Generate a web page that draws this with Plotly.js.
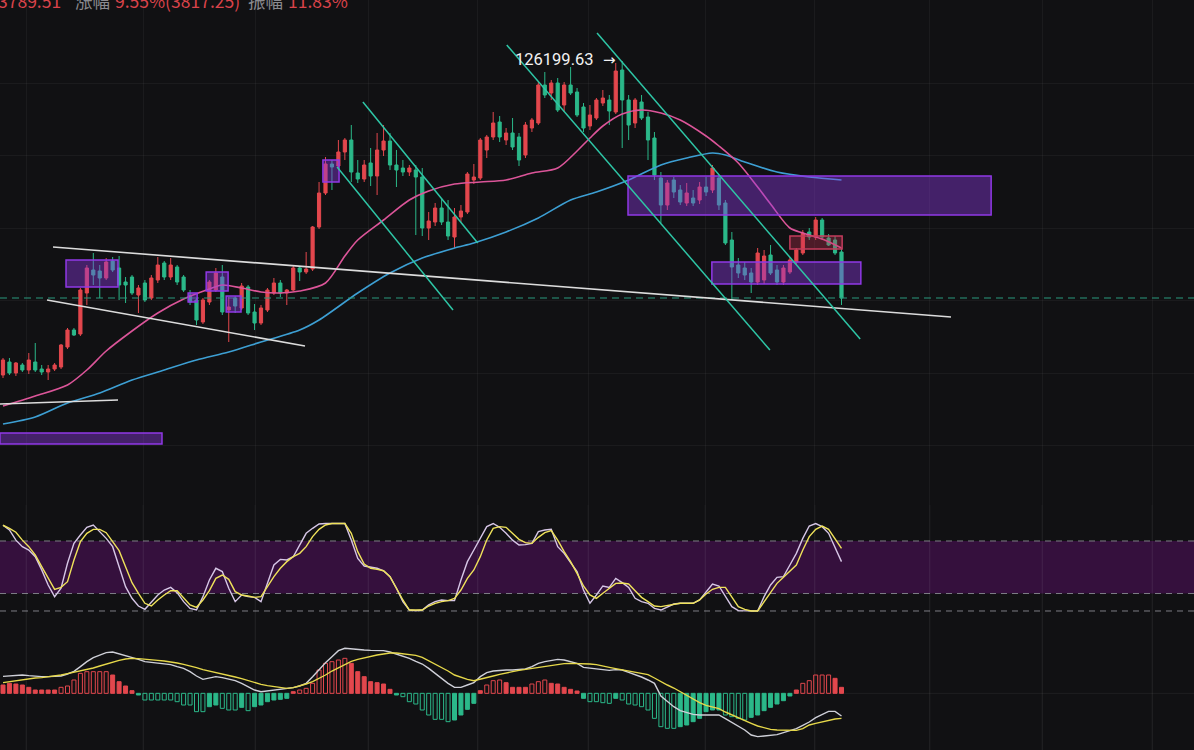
<!DOCTYPE html>
<html><head><meta charset="utf-8">
<script src="https://cdn.plot.ly/plotly-3.0.1.min.js"></script>
<style>html,body{margin:0;padding:0;background:#111113;overflow:hidden}#chart{width:1194px;height:750px}</style>
</head><body><div id="chart"></div>
<script>
// ---- weekly candles (index 0..130) ----
const open = [39536,43124,40088,42296,40916,43124,41192,40364,41192,41744,
47264,51956,50852,62168,68516,68240,66308,71000,69068,65204,
66584,61616,64928,60788,65756,70448,66584,69344,66584,61616,
60236,54164,59684,62996,66584,57476,60788,58028,63824,56924,
53888,57476,62168,64928,62168,62996,69068,67964,68792,80384,
89768,97772,97220,101084,104396,95288,93632,98048,94460,101636,
104120,97496,96668,95564,96116,94184,80108,81764,85628,81764,
77624,83144,84524,93356,93908,101636,105224,109364,104396,106328,
105224,100256,107708,109088,119576,117368,120128,114056,119576,117644,
113504,108260,110468,114608,115436,112124,123716,115436,109088,114884,
110744,104948,93908,86456,93356,90596,87008,88388,87836,91424,
90596,93908,87008,76796,69896,69068,67688,65204,65756,72656,
68516,65204,67964,70724,73208,79004,77624,82316,77348,76796,
73484];
const high = [44228,44228,43124,42848,45608,48368,42296,42296,42848,48092,
52508,52508,63548,69896,73208,69896,71828,72104,72380,66584,
67136,64376,65756,67136,72104,71000,71828,69896,67136,62996,
60788,60788,65756,69068,69896,61064,61340,64928,64376,59132,
58856,63548,66308,65756,63272,69620,69620,73484,80660,92804,
99704,98876,104396,104948,108536,98876,98876,102188,106328,108536,
106328,101636,98876,97496,97496,96668,84524,87008,88388,87836,
85628,86456,95564,97772,104948,105776,112124,111020,107708,110468,
106328,109364,110468,120404,123164,120956,121508,120404,124544,118748,
114608,114056,115988,118196,116816,125648,126199.63,116816,115988,116816,
112124,106604,95564,93356,94184,91976,92528,90596,92804,94184,
97496,94736,87836,79004,71828,70724,69068,74588,74036,75416,
69896,69896,72104,74588,79556,80108,83144,82868,78452,77900,
74588];
const low = [38708,39536,39260,40364,39812,40364,39536,38156,40640,41192,
46712,50300,50300,58856,64376,60788,65756,67964,60236,59408,
61616,56648,59684,60236,64928,65756,65756,64376,62444,58856,
53336,53612,58856,62444,56096,48644,56648,57476,56096,51956,
53336,56924,61616,61064,58856,62720,65480,67412,68240,79832,
89216,90596,96116,98876,92804,92528,92804,91700,89216,99980,
96116,91424,94460,94460,78176,77900,76796,80660,80936,76796,
74588,81764,83972,92252,93356,99428,104396,103844,103016,101636,
97220,99428,106604,108536,115988,115436,112124,112124,116816,110744,
106604,107156,109916,113780,108536,111572,102188,104396,107708,109916,
98876,93356,81488,85076,88388,86456,86180,86180,86732,88940,
89768,85076,75416,60236,66308,65756,62168,64376,64652,67136,
64376,64376,67412,70172,72656,76796,76796,76796,75140,72656,
58856];
const close = [43676,40088,42848,40916,43676,40916,40364,41192,42296,47816,
51956,50576,62996,69068,67136,66308,70724,68516,64376,64376,
62168,63548,60236,66308,69896,66584,69896,65204,62996,59684,
54716,60236,65204,67688,56924,58304,58580,64100,56648,53888,
58028,62996,64928,62168,62996,69068,67964,68792,80384,89768,
97772,96944,101084,104396,95564,93632,97496,94460,101636,104120,
97496,96116,95564,96668,94184,80108,82040,85628,81764,77900,
83144,84800,95012,94184,104396,105224,109088,105224,106328,102464,
98876,108536,109916,119576,116816,120128,112676,119576,117368,111296,
107708,111296,115436,115988,112400,123440,115436,108536,115436,110468,
104396,94736,86456,92528,90044,87284,89768,87008,91424,90044,
96668,86456,75968,69344,67688,67136,65204,73208,72380,67688,
65204,69068,71276,74036,78728,77624,82316,77624,75416,73208,
60788];

// ---- moving averages (read at sample weeks) ----
const ma20Week = [0,5,10,13,16,20,24,28,32,34,37,40,43,46,50,53,55,59,63,66,70,74,78,82,86,89,91,93,96,99,102,105,109,111,114,117,119,122,124,127,130];
const ma20 = [30980,33740,36776,40916,46160,51680,56648,60512,63272,64376,63548,62444,62168,62720,64928,72380,76796,82316,87836,90320,92252,92804,93356,95288,96668,101360,104948,108260,111572,112676,111848,109916,105500,102740,98048,91424,86732,80108,78728,77072,74588];
const ma50Week = [0,5,10,15,20,25,30,35,40,46,49,55,60,65,70,73,78,83,88,92,97,102,106,110,112,115,120,125,130];
const ma50 = [26012,27944,31808,34568,38156,40916,43676,45884,48644,51956,54716,62168,67688,71828,74588,75968,79004,82868,87836,90044,93356,97496,99428,100808,100256,98324,95564,94184,93356];

// ---- stochastic ----
const stochK = [98,92.6,81,73.5,69.7,62,47,29.7,16.4,26,
54.5,77.3,86.9,95.6,98.3,90.7,83,73.5,50.7,27.8,
14.5,5.7,1.9,10.7,18.3,24,27,21,10.7,3,
1.1,16.4,35.4,48.8,45,26,10.7,18.3,16.4,15.6,
10.7,31.6,52.6,59,58.3,62,75.4,88.8,94.5,99.4,
100,100,100,100,81,60,51.4,50,48.8,46,
39.2,26,10.7,1.1,0.3,1.1,6.9,10.7,12.6,11.8,
11.8,35.4,56.4,69.7,83,96.4,100,95.6,88.8,81,
75.4,75.8,77.3,90.7,92.6,93.3,73.5,65.9,55.2,45,
24,8.8,18.3,28.6,27,37.3,32.4,27,14.5,10.7,
8.8,3,1.1,5,8,8.8,8.8,8.8,12.6,22,
30.9,28.6,16.4,5,0.4,0,0,0,16.4,29.7,
38.5,39.2,52.6,65.9,83,97.1,100,96.4,88.8,73.5,
56.4];
const stochD = [98,94.5,90,81,73.5,64,50.7,37.3,24.8,27,
33.5,58.3,79.2,88.8,93.3,93.3,89.5,79.2,69,50.7,
32.4,20.2,8.8,5.7,12.6,18.3,23.2,23.2,14.5,6.9,
4.2,12.6,23.2,37.3,41.1,36.2,22.1,18.3,17.1,15.6,
16.4,27.8,39.2,48.8,56.4,62.1,65.9,73.5,85,93.3,
98.3,100,100,100,88.8,67.8,53.7,48.8,47.6,46,
39.2,25.9,12.6,1.1,1.1,1.1,5.7,8.8,10.7,11.8,
14.5,24,37.3,46.9,62.1,81.1,94.5,96.4,95.6,88.8,
81.9,78.1,77.3,84.2,89.5,91.8,81.1,67.8,56.4,43,
28.6,18.3,14.5,20.2,25.9,31.6,32,30.9,23.2,15.6,
10.7,5.7,5,6.5,8,8.8,8.8,8.8,12.6,19.4,
24.8,27,27,16.4,5,1.9,0,0,10.7,20.2,
31.6,38.5,45,52.6,69.7,85,93.3,97.1,93.3,83,
71.6];
const stochLevels = [80, 20, 0];

// ---- MACD ----
const dif = [2550,2650,2700,2750,2650,2550,2500,2500,2500,2600,
2900,3300,4000,4750,5350,5750,6100,6200,5950,5650,
5400,5100,4750,4650,4600,4500,4300,4000,3750,3250,
2600,2100,2350,2500,2350,2150,1900,1500,1000,500,
250,350,500,600,700,850,1100,1500,2500,3600,
4600,5500,6400,6750,6650,6500,6500,6450,6450,6400,
6200,5900,5600,5250,4800,4400,3750,3000,2200,1500,
900,900,1250,1600,2500,3100,3350,3450,3500,3500,
3600,3650,4000,4500,4750,4900,5100,5000,4750,4500,
3900,3800,3750,3600,3450,3550,3500,3150,2850,2450,
2000,1500,-400,-1250,-2000,-2600,-2900,-3150,-3250,-3250,
-3250,-3250,-3800,-4400,-4900,-5500,-6250,-6500,-6400,-6300,
-6200,-5900,-5600,-5300,-4800,-4300,-3650,-3150,-2700,-2700,
-3400];
const dea = [1600,1750,1950,2100,2200,2300,2350,2450,2600,2750,
2950,3150,3350,3550,3800,4100,4400,4700,4950,5150,
5250,5200,5150,5000,4950,4850,4750,4550,4350,4150,
3850,3550,3350,3150,2900,2650,2450,2200,1900,1600,
1350,1150,1000,850,750,850,1100,1400,1750,2200,
2750,3350,3850,4350,4800,5100,5350,5550,5750,5900,
6050,6050,5950,5850,5700,5400,4900,4400,3850,3350,
2750,2400,2100,1900,2100,2350,2600,2850,3000,3250,
3450,3600,3750,3900,4050,4150,4300,4450,4500,4500,
4500,4400,4300,4050,3900,3700,3500,3300,3100,2950,
2800,2300,1750,1250,800,250,-250,-750,-1400,-1800,
-2100,-2300,-2800,-3250,-3650,-4100,-4500,-4900,-5200,-5400,
-5500,-5550,-5600,-5550,-5300,-4750,-4500,-4250,-4000,-3850,
-3750];
const hist = [1250,1500,1400,1250,900,500,500,500,500,900,
1100,2000,3000,3250,3250,3250,3250,2750,1750,1100,
400,-250,-1000,-1000,-1000,-1000,-1000,-1250,-1750,-1750,
-2750,-2750,-2000,-1750,-2250,-2500,-2500,-2100,-2600,-2000,
-1750,-1250,-1000,-900,-750,250,500,750,1500,3500,
4500,4750,5000,5250,4500,3250,2500,1750,1600,1400,
600,-250,-500,-1250,-1600,-2500,-3250,-3900,-3900,-4250,
-4000,-3250,-2400,-1500,400,1250,1900,2000,1600,900,
900,900,1400,1750,2000,1500,1400,900,600,350,
-750,-1250,-1250,-1400,-1500,-750,-1000,-1600,-1750,-2000,
-2500,-3750,-5000,-5250,-5250,-5000,-4750,-4250,-3750,-2750,
-2500,-2500,-3250,-3500,-3750,-4000,-3600,-3250,-2600,-2100,
-1600,-1100,-400,500,1500,1900,2750,2750,2750,2250,
900];

// ---- drawn zones: [weekStart, weekEnd, priceTop, priceBottom] ----
const purpleZones = [
  [9.77,17.83,71276,63824],
  [-0.47,24.65,23528,20492],
  [28.7,30.1,62168,59684],
  [31.5,34.9,67964,62720],
  [34.6,36.9,61340,56924],
  [49.6,52.1,98876,92804],
  [96.9,153.2,94460,83696],
  [109.9,133.0,70724,64652]
];
const redZones = [[122.0,130.1,77900,74312]];
// ---- drawn trend lines: [week0, price0, week1, price1] ----
const whiteLines = [
  [7.75,74864,146.98,55544],
  [6.82,60236,46.82,47540],
  [-0.47,31532,17.83,32636]
];
const cyanLines = [
  [51.8,96944,69.77,57476],
  [55.8,114884,73.6,75968],
  [78.1,130616,118.9,46436],
  [92.1,133928,132.9,49472]
];
const gridWeeks = [3.57,21.71,39.07,56.59,73.64,90.7,108.84,125.89,143.72,161.09,178.14];
const priceGrid = [20000,40000,60000,80000,100000,120000];
const peakValue = '126199.63';
const topLabels = [
  {t:'3789.51', c:'red', x:-4},
  {t:'涨幅', c:'gray', x:73},
  {t:'9.55%(3817.25)', c:'red', x:113},
  {t:'振幅', c:'gray', x:246},
  {t:'11.83%', c:'red', x:286}
];

// ---------------- build ----------------
const RED='#e3474d', GREEN='#2bb889';
const weeks = open.map((_,i)=>i);
const W=1194, H=750;

const traces = [];
traces.push({type:'candlestick', x:weeks, open, high, low, close, xaxis:'x', yaxis:'y',
  increasing:{line:{color:RED,width:1}, fillcolor:RED},
  decreasing:{line:{color:GREEN,width:1}, fillcolor:GREEN},
  whiskerwidth:0, hoverinfo:'skip'});
traces.push({type:'scatter', mode:'lines', x:ma50Week, y:ma50, line:{color:'#3d9fd3',width:1.6,shape:'spline',smoothing:0.8}, xaxis:'x', yaxis:'y', hoverinfo:'skip'});
traces.push({type:'scatter', mode:'lines', x:ma20Week, y:ma20, line:{color:'#dc5599',width:1.6,shape:'spline',smoothing:0.8}, xaxis:'x', yaxis:'y', hoverinfo:'skip'});

traces.push({type:'scatter', mode:'lines', x:weeks, y:stochK, line:{color:'#d6c6e6',width:1.4}, xaxis:'x', yaxis:'y2', hoverinfo:'skip'});
traces.push({type:'scatter', mode:'lines', x:weeks, y:stochD, line:{color:'#efe25a',width:1.4}, xaxis:'x', yaxis:'y2', hoverinfo:'skip'});

const barFill=[], barLine=[];
let prevHollow=false;
hist.forEach((h,i)=>{
  const col = h>=0?RED:GREEN;
  let hollow=false;
  if(i>0){
    const p=hist[i-1];
    if(Math.sign(p)===Math.sign(h)){
      if(Math.abs(h)>Math.abs(p)) hollow=true;
      else if(Math.abs(h)===Math.abs(p)) hollow=prevHollow;
    }
  }
  if(i<4) hollow=false;
  prevHollow=hollow;
  barFill.push(hollow?'rgba(0,0,0,0)':col);
  barLine.push(col);
});
traces.push({type:'bar', x:weeks, y:hist, width:0.62, marker:{color:barFill, line:{color:barLine,width:1}}, xaxis:'x', yaxis:'y3', hoverinfo:'skip'});
traces.push({type:'scatter', mode:'lines', x:weeks, y:dif, line:{color:'#cfd0d8',width:1.4}, xaxis:'x', yaxis:'y3', hoverinfo:'skip'});
traces.push({type:'scatter', mode:'lines', x:weeks, y:dea, line:{color:'#e6d84a',width:1.4}, xaxis:'x', yaxis:'y3', hoverinfo:'skip'});

const shapes=[];
shapes.push({type:'rect', xref:'paper', x0:0, x1:1, yref:'y2', y0:20, y1:80, fillcolor:'#35103d', line:{width:0}, layer:'below'});
stochLevels.forEach(v=>shapes.push({type:'line', xref:'paper', x0:0, x1:1, yref:'y2', y0:v, y1:v, line:{color:'#7d7d85',width:1,dash:'6px,5px'}, layer:'below'}));
gridWeeks.forEach(g=>{
  shapes.push({type:'line', xref:'x', x0:g, x1:g, yref:'paper', y0:0, y1:0.3267, line:{color:'rgba(255,255,255,0.045)',width:1}, layer:'below'});
});
shapes.push({type:'line', xref:'paper', x0:0, x1:1, yref:'y3', y0:0, y1:0, line:{color:'rgba(255,255,255,0.06)',width:1}, layer:'below'});
shapes.push({type:'line', xref:'paper', x0:0, x1:1, yref:'y', y0:close[close.length-1], y1:close[close.length-1], line:{color:'#2a9a7e',width:1,dash:'7px,5px'}, layer:'above'});
purpleZones.forEach(z=>shapes.push({type:'rect', xref:'x', yref:'y', x0:z[0], x1:z[1], y0:z[3], y1:z[2], fillcolor:'rgba(140,58,225,0.42)', line:{color:'#9038e6',width:1.5}, layer:'above'}));
redZones.forEach(z=>shapes.push({type:'rect', xref:'x', yref:'y', x0:z[0], x1:z[1], y0:z[3], y1:z[2], fillcolor:'rgba(200,50,85,0.33)', line:{color:'#c43c5c',width:1.5}, layer:'above'}));
whiteLines.forEach(l=>shapes.push({type:'line', xref:'x', yref:'y', x0:l[0], y0:l[1], x1:l[2], y1:l[3], line:{color:'#dcdcdc',width:1.6}, layer:'above'}));
cyanLines.forEach(l=>shapes.push({type:'line', xref:'x', yref:'y', x0:l[0], y0:l[1], x1:l[2], y1:l[3], line:{color:'#2ec6a6',width:1.5}, layer:'above'}));

const annotations=[];
annotations.push({xref:'paper', yref:'paper', x:596/W, y:(H-59)/H, xanchor:'right', yanchor:'middle', text:peakValue, showarrow:false, font:{family:'Roboto, "Noto Sans", sans-serif', size:16.5, color:'#f2f2f2'}});
annotations.push({xref:'paper', yref:'paper', x:601/W, y:(H-60)/H, xanchor:'left', yanchor:'middle', text:'→', showarrow:false, font:{family:'"DejaVu Sans", sans-serif', size:15, color:'#f2f2f2'}});
topLabels.forEach(l=>annotations.push({xref:'paper', yref:'paper', x:l.x/W, y:(H-1)/H, xanchor:'left', yanchor:'middle', text:l.t, showarrow:false,
  font:{family:'"Noto Sans CJK SC", Roboto, sans-serif', size:17.5, color:l.c==='red'?'#d9434a':'#8a8a8f'}}));

const layout = {
  width:W, height:H, margin:{l:0,r:0,t:0,b:0,pad:0},
  paper_bgcolor:'#111113', plot_bgcolor:'#111113', showlegend:false, dragmode:false,
  xaxis:{range:[-3/6.45, (W-3)/6.45], showticklabels:false, tickvals:gridWeeks, showgrid:true, gridcolor:'rgba(255,255,255,0.045)', zeroline:false, rangeslider:{visible:false}, fixedrange:true, anchor:'y'},
  yaxis:{domain:[0.32667,1], range:[143036-276*505, 143036], tickvals:priceGrid, showgrid:true, gridcolor:'rgba(255,255,255,0.045)', showticklabels:false, zeroline:false, fixedrange:true},
  yaxis2:{domain:[0.17333,0.32667], range:[(611-620)/0.875-0.01,(611-505)/0.875], showgrid:false, showticklabels:false, zeroline:false, fixedrange:true},
  yaxis3:{domain:[0,0.17333], range:[-8500,11000], showgrid:false, showticklabels:false, zeroline:false, fixedrange:true},
  shapes, annotations, bargap:0.3
};
Plotly.newPlot('chart', traces, layout, {staticPlot:true, displayModeBar:false});
</script></body></html>
